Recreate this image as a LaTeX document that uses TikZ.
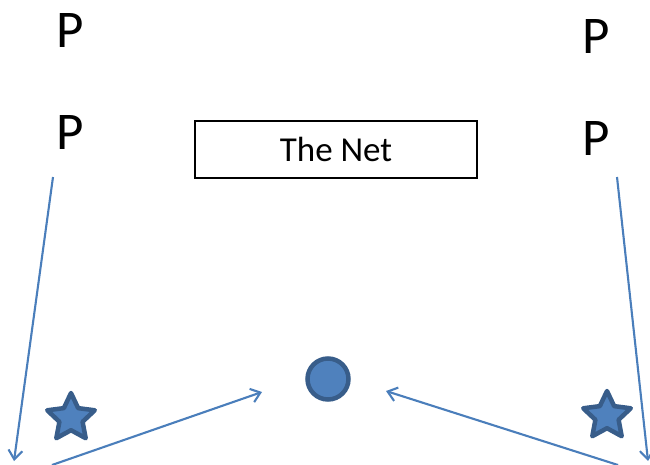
\documentclass[tikz,border=0pt]{standalone}
\usepackage{fontspec}
\setmainfont{Carlito}
\usetikzlibrary{arrows.meta,shapes.geometric}
\definecolor{lineblue}{HTML}{4A7EBB}
\definecolor{fillblue}{HTML}{4F81BD}
\definecolor{edgeblue}{HTML}{385D8A}
\tikzset{
  bigp/.style={inner sep=0pt, anchor=base, font=\fontsize{53}{60}\selectfont},
  conn/.style={draw=lineblue, line width=2.1pt, -{Straight Barb[length=9pt,width=14pt,line width=2.1pt]}},
  starshape/.style={star, star points=5, star point ratio=2.05, minimum size=50pt, inner sep=0pt, fill=fillblue, draw=edgeblue, line width=4.5pt, line join=round},
}
\begin{document}
\begin{tikzpicture}[x=1pt,y=-1pt]
\useasboundingbox (0,0) rectangle (650,464);
\node[bigp] (p1) at (70,47) {P};
\node[bigp] (p2) at (70,149) {P};
\node[bigp] (p3) at (596,53) {P};
\node[bigp] (p4) at (596,155) {P};
\node[draw=black, line width=2pt, minimum width=282pt, minimum height=57pt, inner sep=0pt, font=\fontsize{35}{40}\selectfont] (net) at (336,149.5) {The Net};
\node[circle, fill=fillblue, draw=edgeblue, line width=4.5pt, minimum size=41pt, inner sep=0pt] (ball) at (328,379) {};
\node[starshape] (s1) at (71,418) {};
\node[starshape] (s2) at (607,416) {};
\coordinate (a1s) at (53,177);
\coordinate (a1e) at (14,461);
\coordinate (a2s) at (617,177);
\coordinate (a2e) at (648,461);
\coordinate (b1s) at (52,465);
\coordinate (b1e) at (262,392);
\coordinate (b2s) at (618,465);
\coordinate (b2e) at (386,391);
\draw[conn] (a1s) -- (a1e);
\draw[conn] (a2s) -- (a2e);
\draw[conn] (b1s) -- (b1e);
\draw[conn] (b2s) -- (b2e);
\end{tikzpicture}
\end{document}
